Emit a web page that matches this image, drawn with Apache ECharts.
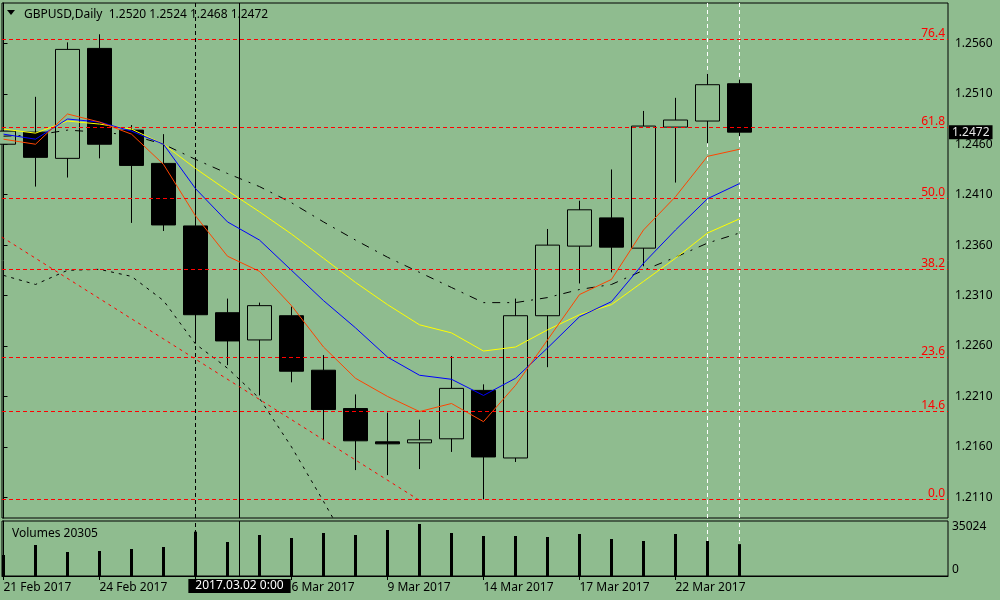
<!DOCTYPE html>
<html>
<head>
<meta charset="utf-8">
<script src="https://cdn.jsdelivr.net/npm/echarts@6/dist/echarts.min.js"></script>
<style>
html,body{margin:0;padding:0;background:#8FBC8F;}
#c{width:1000px;height:600px;}
</style>
</head>
<body>
<div id="c"></div>
<script>
// ---- data ----
const dates = ['21 Feb 2017','22 Feb 2017','23 Feb 2017','24 Feb 2017','27 Feb 2017','28 Feb 2017',
  '1 Mar 2017','2 Mar 2017','3 Mar 2017','6 Mar 2017','7 Mar 2017','8 Mar 2017','9 Mar 2017',
  '10 Mar 2017','13 Mar 2017','14 Mar 2017','15 Mar 2017','16 Mar 2017','17 Mar 2017',
  '20 Mar 2017','21 Mar 2017','22 Mar 2017','23 Mar 2017','24 Mar 2017'];
const opens  = [1.2460,1.2472,1.2446,1.2555,1.2474,1.2441,1.2379,1.2293,1.2266,1.2290,1.2236,1.2198,
                1.2165,1.2164,1.2168,1.2216,1.2149,1.2290,1.2359,1.2387,1.2357,1.2477,1.2483,1.2520];
const closes = [1.2473,1.2447,1.2554,1.2460,1.2439,1.2380,1.2291,1.2265,1.2300,1.2235,1.2197,1.2166,
                1.2163,1.2167,1.2218,1.2150,1.2290,1.2360,1.2395,1.2358,1.2478,1.2484,1.2519,1.2472];
const lows   = [1.2401,1.2418,1.2427,1.2446,1.2382,1.2374,1.2266,1.2241,1.2211,1.2224,1.2167,1.2137,
                1.2132,1.2138,1.2155,1.2108,1.2145,1.2239,1.2322,1.2333,1.2339,1.2422,1.2461,1.2468];
const highs  = [1.2481,1.2507,1.2561,1.2569,1.2479,1.2470,1.2445,1.2307,1.2303,1.2299,1.2251,1.2212,
                1.2194,1.2187,1.2250,1.2222,1.2307,1.2376,1.2404,1.2435,1.2493,1.2506,1.2530,1.2524];
const volumes = [13373,19741,15283,15920,17194,18467,28210,21651,26109,24198,27382,26109,
                 29293,33114,27382,25472,25472,24835,26746,23562,22288,26746,22288,20305];
const maRed    = [1.2465,1.2460,1.2490,1.2482,1.2470,1.2440,1.2389,1.2349,1.2334,1.2300,1.2259,1.2228,
                  1.2210,1.2195,1.2203,1.2185,1.2221,1.2266,1.2311,1.2326,1.2375,1.2408,1.2448,1.2455];
const maBlue   = [1.2470,1.2465,1.2485,1.2482,1.2473,1.2460,1.2416,1.2383,1.2365,1.2335,1.2305,1.2278,
                  1.2249,1.2231,1.2227,1.2211,1.2228,1.2258,1.2289,1.2304,1.2342,1.2375,1.2406,1.2421];
const maYellow = [1.2475,1.2471,1.2483,1.2480,1.2475,1.2460,1.2436,1.2414,1.2393,1.2371,1.2347,1.2323,
                  1.2301,1.2281,1.2273,1.2255,1.2259,1.2276,1.2291,1.2301,1.2324,1.2347,1.2372,1.2386];
const maBlack  = [1.2468,1.2469,1.2474,1.2472,1.2469,1.2460,1.2445,1.2431,1.2418,1.2402,1.2383,1.2365,
                  1.2348,1.2333,1.2318,1.2303,1.2303,1.2308,1.2316,1.2321,1.2335,1.2348,1.2362,1.2372];
const lowerBand = [1.2330,1.2321,1.2335,1.2336,1.2329,1.2305,1.2262,1.2238,1.2208,1.2160,1.2106,1.2050];
const trendIdx   = [-0.05, 12.95];
const trendPrice = [1.2368, 1.2108];
const fibPrices = [1.2108,1.2195,1.2249,1.2336,1.2406,1.2477,1.2564];
const fibLabels = ['0.0','14.6','23.6','38.2','50.0','61.8','76.4'];
const priceTicks = [1.2110,1.2160,1.2210,1.2260,1.2310,1.2360,1.2410,1.2460,1.2510,1.2560];
const dateTickIdx = [0,3,6,9,12,15,18,21];
const volTicks = [0, 35024];
const whiteVLines = [22, 23];
const blackDashVLine = 6;
const crosshairIdx = 7.375;
const crosshairLabel = '2017.03.02 0:00';
const symbolName = 'GBPUSD,Daily';

// ---- chart ----
const BG = '#8FBC8F';
const FONT = 'Noto Sans';
const X_MIN = -0.046875, X_MAX = 29.515625;
const Y_MIN = 1.20895, Y_MAX = 1.2600;
const last = dates.length - 1;
const pairs = arr => arr.map((v, i) => [i, v]);

function vLineItems(withLabel) {
  const items = [
    ...whiteVLines.map(x => ({xAxis: x, lineStyle: {color: '#ffffff', type: [4, 3], width: 1}, label: {show: false}})),
    {xAxis: blackDashVLine, lineStyle: {color: '#000', type: [4, 3], width: 1}, label: {show: false}},
    {xAxis: crosshairIdx, lineStyle: {color: '#000', type: 'solid', width: 1}, label: {show: false}}
  ];
  if (withLabel) {
    items[items.length - 1].label = {show: true, position: 'start', formatter: crosshairLabel, color: '#ffffff',
      backgroundColor: '#000', padding: [1, 7, 1, 7], lineHeight: 12, distance: 3, fontFamily: FONT, fontSize: 12};
  }
  return items;
}

function fibLabelFor(v) {
  let best = 0;
  fibPrices.forEach((p, i) => { if (Math.abs(p - v) < Math.abs(fibPrices[best] - v)) best = i; });
  return fibLabels[best];
}

const option = {
  backgroundColor: BG,
  animation: false,
  textStyle: {fontFamily: FONT, fontSize: 12, color: '#000'},
  title: [
    {text: symbolName + '  ' + [opens[last], highs[last], lows[last], closes[last]].map(v => v.toFixed(4)).join(' '),
     left: 19, top: 3, textStyle: {fontFamily: FONT, fontSize: 12, fontWeight: 'normal', color: '#000', lineHeight: 14}},
    {text: 'Volumes ' + volumes[last], left: 7, top: 522,
     textStyle: {fontFamily: FONT, fontSize: 12, fontWeight: 'normal', color: '#000', lineHeight: 14}}
  ],
  graphic: [
    {type: 'polygon', shape: {points: [[7, 10], [15, 10], [11, 15]]}, style: {fill: '#000'}}
  ],
  grid: [
    {left: 2, top: 3, width: 946, height: 515, show: true, borderColor: '#000', borderWidth: 1, backgroundColor: 'transparent'},
    {left: 2, top: 521, width: 946, height: 55, show: true, borderColor: '#000', borderWidth: 1, backgroundColor: 'transparent'}
  ],
  xAxis: [
    {type: 'value', gridIndex: 0, min: X_MIN, max: X_MAX,
     axisLine: {show: false}, axisTick: {show: false}, axisLabel: {show: false}, splitLine: {show: false}},
    {type: 'value', gridIndex: 1, min: X_MIN, max: X_MAX,
     axisLine: {show: true, lineStyle: {color: '#000'}},
     axisTick: {show: true, customValues: dateTickIdx, length: 4, lineStyle: {color: '#000'}},
     axisLabel: {show: true, customValues: dateTickIdx, formatter: v => dates[Math.round(v)],
                 align: 'left', margin: 6, color: '#000', fontFamily: FONT, fontSize: 12},
     splitLine: {show: false}}
  ],
  yAxis: [
    {type: 'value', gridIndex: 0, position: 'right', min: Y_MIN, max: Y_MAX, scale: true,
     axisLine: {show: true, lineStyle: {color: '#000'}},
     axisTick: {show: true, customValues: priceTicks, length: 4, lineStyle: {color: '#000'}},
     axisLabel: {show: true, customValues: priceTicks, formatter: v => v.toFixed(4),
                 margin: 7, color: '#000', fontFamily: FONT, fontSize: 12},
     splitLine: {show: false}},
    {type: 'value', gridIndex: 1, position: 'right', min: 0, max: 35024,
     axisLine: {show: true, lineStyle: {color: '#000'}},
     axisTick: {show: false},
     axisLabel: {show: true, customValues: volTicks, formatter: v => String(v),
                 verticalAlignMinLabel: 'bottom', verticalAlignMaxLabel: 'top',
                 margin: 4, color: '#000', fontFamily: FONT, fontSize: 12},
     splitLine: {show: false}},
    // Fibonacci levels: crisp dashed split lines above the candles, labels inside on the right
    {type: 'value', gridIndex: 0, position: 'right', min: Y_MIN, max: Y_MAX, scale: true, z: 5,
     axisLine: {show: false},
     axisTick: {show: false, customValues: fibPrices},
     axisLabel: {show: true, inside: true, customValues: fibPrices, formatter: v => fibLabelFor(v),
                 verticalAlign: 'bottom', margin: 3, color: '#ff0000', fontFamily: FONT, fontSize: 12,
                 showMinLabel: true, showMaxLabel: true},
     splitLine: {show: true, lineStyle: {color: '#ff0000', type: [4, 3], width: 1}}}
  ],
  series: [
    {type: 'line', name: 'vlinesMain', xAxisIndex: 0, yAxisIndex: 0, z: 1, data: [], symbol: 'none',
     markLine: {silent: true, z: 1, precision: 4, symbol: ['none', 'none'], animation: false, data: vLineItems(false)}},
    {type: 'line', name: 'vlinesVol', xAxisIndex: 1, yAxisIndex: 1, z: 1, data: [], symbol: 'none',
     markLine: {silent: true, z: 1, precision: 4, symbol: ['none', 'none'], animation: false, data: vLineItems(true)}},
    {type: 'candlestick', xAxisIndex: 0, yAxisIndex: 0, z: 2,
     dimensions: ['idx', 'open', 'close', 'lowest', 'highest'],
     encode: {x: 'idx', y: ['open', 'close', 'lowest', 'highest']},
     data: dates.map((d, i) => [i, opens[i], closes[i], lows[i], highs[i]]),
     barWidth: 24,
     itemStyle: {color: BG, color0: '#000', borderColor: '#000', borderColor0: '#000', borderColorDoji: '#000', borderWidth: 1},
     markLine: {silent: true, precision: 4, symbol: ['none', 'none'], animation: false, z: 6,
       data: [
         {yAxis: closes[last], lineStyle: {color: 'rgba(0,0,0,0)', width: 0},
          label: {show: true, position: 'end', formatter: closes[last].toFixed(4), color: '#e6e6e6',
                  backgroundColor: '#000', padding: [1, 3, 1, 3], distance: 1, fontFamily: FONT, fontSize: 12}}
       ]}
    },
    {type: 'line', name: 'trend', xAxisIndex: 0, yAxisIndex: 0, z: 3, symbol: 'none',
     data: trendIdx.map((x, i) => [x, trendPrice[i]]),
     lineStyle: {color: '#ff0000', width: 1, type: [3, 4]}},
    {type: 'line', name: 'lower', xAxisIndex: 0, yAxisIndex: 0, z: 3, symbol: 'none',
     data: pairs(lowerBand), lineStyle: {color: '#000', width: 1, type: [3, 5]}},
    {type: 'line', name: 'maBlack', xAxisIndex: 0, yAxisIndex: 0, z: 3, symbol: 'none',
     data: pairs(maBlack), lineStyle: {color: '#000', width: 1, type: [8, 7, 2, 7]}},
    {type: 'line', name: 'maYellow', xAxisIndex: 0, yAxisIndex: 0, z: 4, symbol: 'none',
     data: pairs(maYellow), lineStyle: {color: '#ffff00', width: 1}},
    {type: 'line', name: 'maBlue', xAxisIndex: 0, yAxisIndex: 0, z: 4, symbol: 'none',
     data: pairs(maBlue), lineStyle: {color: '#0000ff', width: 1}},
    {type: 'line', name: 'maRed', xAxisIndex: 0, yAxisIndex: 0, z: 4, symbol: 'none',
     data: pairs(maRed), lineStyle: {color: '#ff4500', width: 1}},
    {type: 'bar', name: 'vol', xAxisIndex: 1, yAxisIndex: 1, z: 2, barWidth: 3,
     data: pairs(volumes), itemStyle: {color: '#000'}}
  ]
};

const chart = echarts.init(document.getElementById('c'), null, {renderer: 'canvas'});
chart.setOption(option);
</script>
</body>
</html>
